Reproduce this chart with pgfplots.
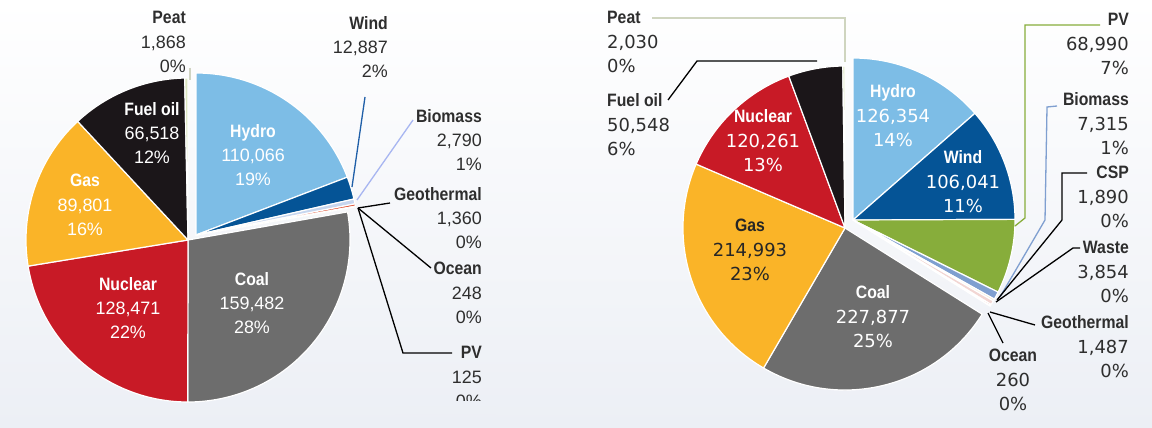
\documentclass[border=0pt]{standalone}
\usepackage{pgfplots}
\pgfplotsset{compat=1.18}
\usepackage{fontspec}
\setmainfont{Liberation Sans}
\newfontfamily\lab{Liberation Sans}[FakeStretch=0.88]
\newfontfamily\numR{DejaVu Sans}
\definecolor{hydro}{HTML}{7DBDE6}
\definecolor{wind}{HTML}{055496}
\definecolor{windline}{HTML}{1F5FA8}
\definecolor{coal}{HTML}{6D6D6D}
\definecolor{nuclear}{HTML}{C81A26}
\definecolor{gas}{HTML}{FAB428}
\definecolor{fueloil}{HTML}{1B1619}
\definecolor{peat}{HTML}{DCE6C0}
\definecolor{biomassL}{HTML}{C6D6EF}
\definecolor{biomassR}{HTML}{7F9FD0}
\definecolor{geo}{HTML}{E0583C}
\definecolor{pvc}{HTML}{87AD3B}
\definecolor{ocean}{HTML}{DADDE3}
\definecolor{csp}{HTML}{F3E6C8}
\definecolor{waste}{HTML}{F2D6D3}
\definecolor{txt}{HTML}{2E2E2E}
\definecolor{bgb}{HTML}{ECEFF5}
\newcommand\R{162bp}
\gdef\cum{0}
\newcommand\slice[4]{%
  \edef\sa{\fpeval{90-360*\cum/\total}}%
  \xdef\cum{\fpeval{\cum+#1}}%
  \edef\sb{\fpeval{90-360*\cum/\total}}%
  \edef\tmp{\noexpand\fill[#2, draw=white, line width=1.2bp, line join=round] (axis cs:#3,#4) -- ++(\sa:\R) arc[start angle=\sa, end angle=\sb, radius=\R] -- cycle;}%
  \tmp}
\tikzset{lbl/.style={align=center, inner sep=0pt, font=\fontsize{18}{24.5}\selectfont},
  olbl/.style={lbl, text=txt}}
\begin{document}
\begin{tikzpicture}
\begin{axis}[width=1152bp, height=428bp, scale only axis, xmin=0, xmax=1152, ymin=0, ymax=428,
  y dir=reverse, hide axis, clip=false]
\fill[top color=white, bottom color=bgb] (axis cs:0,0) rectangle (axis cs:1152,428);
% ---------------- left pie ----------------
\edef\total{\fpeval{110066+12887+2790+1360+248+125+159482+128471+89801+66518+1868}}
\gdef\cum{0}
\slice{110066}{hydro}{196}{235}
\slice{12887}{wind}{196}{235}
\slice{2790}{biomassL}{196}{235}
\slice{1360}{geo}{196}{235}
\slice{248}{ocean}{196}{235}
\slice{125}{pvc}{196}{235}
\slice{159482}{coal}{188}{240}
\slice{128471}{nuclear}{188}{240}
\slice{89801}{gas}{188}{240}
\slice{66518}{fueloil}{188}{240}
\slice{1868}{peat}{188}{240}
% leader lines
\addplot[peat!80!black!60, line width=1.2bp, no marks] coordinates {(190,68) (190,80)};
\addplot[windline, line width=1.3bp, no marks] coordinates {(352,187) (365,97)};
\addplot[biomassL!85!blue, line width=1.3bp, no marks] coordinates {(357,200) (413,120)};
\addplot[black, line width=1.3bp, no marks] coordinates {(358,208) (390,203)};
\addplot[black, line width=1.3bp, no marks] coordinates {(358,208) (431,268)};
\addplot[black, line width=1.3bp, no marks] coordinates {(358,208) (403,353) (452,353)};
% inner labels
\node[lbl, text=white] at (axis cs:253,155) {{\lab\bfseries Hydro}\\110,066\\19\%};
\node[lbl, text=white] at (axis cs:152,133) {{\lab\bfseries Fuel oil}\\66,518\\12\%};
\node[lbl, text=white] at (axis cs:85,205) {{\lab\bfseries Gas}\\89,801\\16\%};
\node[lbl, text=white] at (axis cs:128,308) {{\lab\bfseries Nuclear}\\128,471\\22\%};
\node[lbl, text=white] at (axis cs:252,303) {{\lab\bfseries Coal}\\159,482\\28\%};
% outer labels
\node[olbl, align=right, anchor=east] at (axis cs:186,42) {{\lab\bfseries Peat}\\1,868\\0\%};
\node[olbl, align=right, anchor=east] at (axis cs:388,47) {{\lab\bfseries Wind}\\12,887\\2\%};
\node[olbl, align=right, anchor=east] at (axis cs:482,140) {{\lab\bfseries Biomass}\\2,790\\1\%};
\node[olbl, align=right, anchor=east] at (axis cs:482,218) {{\lab\bfseries Geothermal}\\1,360\\0\%};
\node[olbl, align=right, anchor=east] at (axis cs:482,293) {{\lab\bfseries Ocean}\\248\\0\%};
\node[olbl, align=right, anchor=east] at (axis cs:482,377) {{\lab\bfseries PV}\\125\\0\%};
\fill[top color=bgb!94!white, bottom color=bgb] (axis cs:395,401) rectangle (axis cs:495,428);
% ---------------- right pie ----------------
\edef\total{\fpeval{126354+106041+68990+7315+1890+3854+1487+260+227877+214993+120261+50548+2030}}
\gdef\cum{0}
\slice{126354}{hydro}{853}{220}
\slice{106041}{wind}{853}{220}
\slice{68990}{pvc}{853}{220}
\slice{7315}{biomassR}{853}{220}
\slice{1890}{csp}{853}{220}
\slice{3854}{waste}{853}{220}
\slice{1487}{geo}{853}{220}
\slice{260}{ocean}{853}{220}
\slice{227877}{coal}{845}{228}
\slice{214993}{gas}{845}{228}
\slice{120261}{nuclear}{845}{228}
\slice{50548}{fueloil}{845}{228}
\slice{2030}{peat}{845}{228}
% leader lines
\addplot[peat!85!black!70, line width=1.2bp, no marks] coordinates {(652,18) (845,18) (845,62)};
\addplot[black, line width=1.3bp, no marks] coordinates {(668,100) (697,61) (817,61)};
\addplot[pvc, line width=1.3bp, no marks] coordinates {(1015,226) (1025,218) (1025,25) (1100,25)};
\addplot[biomassR, line width=1.3bp, no marks] coordinates {(1000,297) (1045,220) (1047,107) (1057,106)};
\addplot[black, line width=1.3bp, no marks] coordinates {(997,300) (1062,220) (1062,173) (1087,173)};
\addplot[black, line width=1.3bp, no marks] coordinates {(996,302) (1073,248) (1080,248)};
\addplot[black, line width=1.3bp, no marks] coordinates {(990,312) (1035,325)};
\addplot[black, line width=1.3bp, no marks] coordinates {(988,313) (1003,343)};
% inner labels
\node[lbl, text=white] at (axis cs:893,116) {{\lab\bfseries Hydro}\\{\numR 126,354}\\{\numR 14\%}};
\node[lbl, text=white] at (axis cs:963,182) {{\lab\bfseries Wind}\\{\numR 106,041}\\{\numR 11\%}};
\node[lbl, text=white] at (axis cs:763,141) {{\lab\bfseries Nuclear}\\{\numR 120,261}\\{\numR 13\%}};
\node[lbl, text=black!85] at (axis cs:750,250) {{\lab\bfseries Gas}\\{\numR 214,993}\\{\numR 23\%}};
\node[lbl, text=white] at (axis cs:873,317) {{\lab\bfseries Coal}\\{\numR 227,877}\\{\numR 25\%}};
% outer labels
\node[olbl, align=left, anchor=west] at (axis cs:607,42) {{\lab\bfseries Peat}\\{\numR 2,030}\\{\numR 0\%}};
\node[olbl, align=left, anchor=west] at (axis cs:607,125) {{\lab\bfseries Fuel oil}\\{\numR 50,548}\\{\numR 6\%}};
\node[olbl, align=right, anchor=east] at (axis cs:1129,44) {{\lab\bfseries PV}\\{\numR 68,990}\\{\numR 7\%}};
\node[olbl, align=right, anchor=east] at (axis cs:1129,124) {{\lab\bfseries Biomass}\\{\numR 7,315}\\{\numR 1\%}};
\node[olbl, align=right, anchor=east] at (axis cs:1129,197) {{\lab\bfseries CSP}\\{\numR 1,890}\\{\numR 0\%}};
\node[olbl, align=right, anchor=east] at (axis cs:1129,272) {{\lab\bfseries Waste}\\{\numR 3,854}\\{\numR 0\%}};
\node[olbl, align=right, anchor=east] at (axis cs:1129,347) {{\lab\bfseries Geothermal}\\{\numR 1,487}\\{\numR 0\%}};
\node[olbl, align=center] at (axis cs:1013,380) {{\lab\bfseries Ocean}\\{\numR 260}\\{\numR 0\%}};
\end{axis}
\end{tikzpicture}
\end{document}
